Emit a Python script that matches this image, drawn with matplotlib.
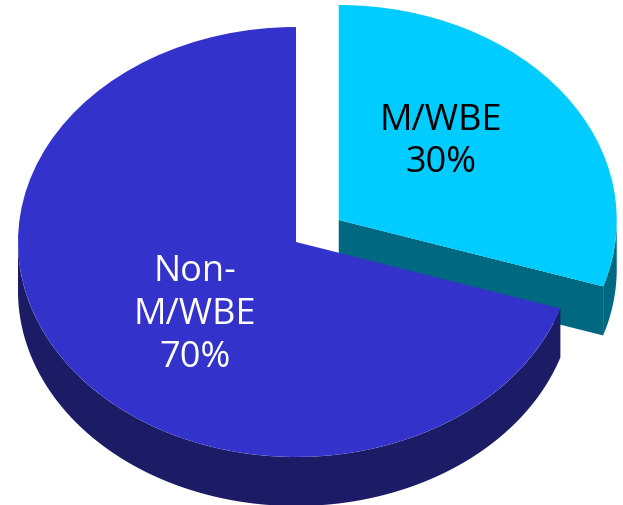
import numpy as np
import matplotlib
matplotlib.use("Agg")
import matplotlib.pyplot as plt

# Data
labels = ["M/WBE\n30%", "Non-\nM/WBE\n70%"]
shares = [30, 70]
top_colors = ["#00CCFF", "#3333CC"]
side_colors = ["#006880", "#1C1C66"]

W, H = 623, 506
RX, RY = 278, 215      # ellipse radii in pixels
DEPTH = 49             # thickness in pixels
CX, CY = 296, 243      # centre of the pie in pixels
YS = RX / RY           # pie units per pixel, vertically


def py(y):
    return (H - y) * YS


fig = plt.figure(figsize=(W / 100, H / 100), dpi=100)
ax = fig.add_axes([0, 0, 1, 1])

# explode is in data units here, so scale it by the radius
wedges, _ = ax.pie(shares, colors=top_colors, startangle=90, counterclock=False,
                   explode=[0.19 * RX, 0], radius=RX, center=(CX, py(CY)),
                   wedgeprops={"linewidth": 0})
ax.set_aspect("auto")
ax.set_xlim(0, W)
ax.set_ylim(0, H * YS)
ax.axis("off")


def draw_side(wedge, color):
    # outer wall of the wedge, only the part that faces the viewer
    cx, cy = wedge.center
    drop = DEPTH * YS
    angles = np.radians(np.linspace(wedge.theta1, wedge.theta2, 400))
    angles = angles[np.sin(angles) <= 0]
    xs = cx + RX * np.cos(angles)
    ys = cy + RX * np.sin(angles)
    ax.fill(np.r_[xs, xs[::-1]], np.r_[ys, ys[::-1] - drop], color=color, lw=0,
            zorder=wedge.get_zorder() - 0.5)


def draw_cut(wedge, angle, color):
    # flat cut face from the centre out to the rim
    cx, cy = wedge.center
    drop = DEPTH * YS
    a = np.radians(angle)
    xs = np.array([cx, cx + RX * np.cos(a)])
    ys = np.array([cy, cy + RX * np.sin(a)])
    ax.fill(np.r_[xs, xs[::-1]], np.r_[ys, ys[::-1] - drop], color=color, lw=0,
            zorder=wedge.get_zorder() - 0.5)


small, big = wedges
# the pulled-out slice sits a touch lower in the reference
small.set_center((small.center[0], small.center[1] - 2 * YS))
small.set_zorder(3)
big.set_zorder(5)
draw_cut(small, small.theta1, side_colors[0])
draw_side(small, side_colors[0])
draw_side(big, side_colors[1])

font = "Open Sans"
ax.text(441, py(142), labels[0], color="black", fontsize=26, family=font,
        ha="center", va="center", linespacing=1.25, zorder=6)
ax.text(195, py(315), labels[1], color="white", fontsize=26, family=font,
        ha="center", va="center", linespacing=1.25, zorder=6)

fig.savefig("out.png", dpi=100)
